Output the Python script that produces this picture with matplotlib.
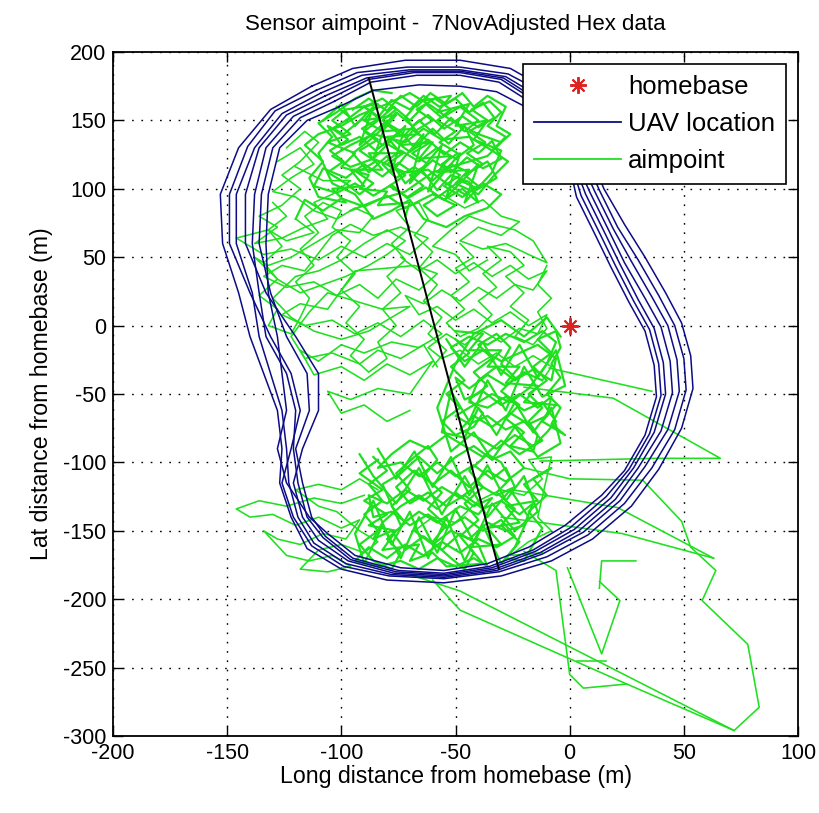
import numpy as np
import matplotlib
matplotlib.use("Agg")
import matplotlib.pyplot as plt
from matplotlib.lines import Line2D

plt.rcParams['font.family'] = ['Liberation Sans', 'DejaVu Sans']
plt.rcParams['axes.unicode_minus'] = False

title = "Sensor aimpoint -  7NovAdjusted Hex data"
xlabel = "Long distance from homebase (m)"
ylabel = "Lat distance from homebase (m)"
x_ticks = [-200, -150, -100, -50, 0, 50, 100]
y_ticks = [-300, -250, -200, -150, -100, -50, 0, 50, 100, 150, 200]

homebase = (0, 0)
track_line = [(-88, 181), (-31, -178)]

# UAV laps (x, y) in metres
uav_lap1 = [(-113,175),(-95,188),(-72,194),(-48,194),(-26,188),(-9,172),(2,150),(9,124),(15,100),(24,74),(33,50),(42,24),(49,2),(53,-22),(54,-46),(49,-75),(39,-105),(27,-132),(10,-156),(-8,-172),(-30,-183),(-55,-188),(-80,-186),(-100,-178),(-115,-163),(-122,-140),(-127,-115),(-126,-90),(-128,-62),(-134,-35),(-140,-8),(-145,24),(-152,60),(-153,96),(-145,130),(-131,158),(-113,175)]
uav_lap2 = [(-111,172),(-93,185),(-71,189),(-48,189),(-27,184),(-10,169),(0,147),(7,122),(13,99),(21,72),(30,48),(39,22),(46,0),(50,-24),(51,-47),(46,-76),(36,-104),(24,-130),(8,-153),(-10,-169),(-31,-180),(-55,-185),(-79,-183),(-99,-176),(-113,-161),(-121,-140),(-126,-115),(-122,-90),(-118,-62),(-122,-35),(-131,-8),(-140,24),(-149,60),(-149,96),(-141,131),(-129,157),(-111,172)]
uav_lap3 = [(-109,170),(-91,183),(-70,187),(-48,187),(-28,182),(-12,166),(-2,145),(5,120),(11,98),(19,71),(27,47),(36,21),(43,0),(47,-25),(48,-48),(43,-76),(33,-103),(22,-128),(6,-151),(-12,-167),(-32,-179),(-55,-184),(-78,-182),(-98,-174),(-112,-159),(-119,-140),(-123,-115),(-124,-90),(-126,-62),(-131,-35),(-136,-8),(-139,24),(-146,60),(-146,96),(-138,130),(-126,155),(-109,170)]
uav_lap4 = [(-107,168),(-89,181),(-69,186),(-48,186),(-29,181),(-13,164),(-3,143),(3,119),(9,97),(17,70),(24,46),(33,20),(40,-1),(44,-26),(45,-49),(40,-77),(30,-104),(20,-127),(4,-150),(-13,-166),(-33,-178),(-55,-183),(-77,-181),(-97,-172),(-110,-157),(-117,-140),(-121,-115),(-117,-90),(-110,-62),(-110,-35),(-120,-8),(-133,24),(-142,60),(-142,96),(-136,130),(-124,154),(-107,168)]
uav_lap5 = [(-105,166),(-88,180),(-68,185),(-48,185),(-30,180),(-14,163),(-4,141),(2,118),(7,96),(15,69),(22,45),(30,19),(37,-2),(41,-27),(42,-50),(37,-78),(28,-104),(18,-126),(2,-149),(-15,-165),(-34,-177),(-55,-182),(-76,-180),(-96,-171),(-108,-155),(-115,-140),(-119,-115),(-121,-90),(-120,-62),(-124,-35),(-133,-8),(-136,24),(-139,60),(-138,96),(-133,130),(-121,153),(-105,166)]
uav_lap6 = [(-103,164),(-87,178),(-67,183),(-48,183),(-31,178),(-15,161),(-5,139),(1,117),(5,95),(13,68),(20,44),(28,18),(35,-3),(39,-28),(40,-51),(35,-79),(26,-105),(16,-125),(0,-148),(-16,-164),(-35,-176),(-55,-181),(-75,-179),(-95,-170),(-107,-154),(-113,-140),(-117,-115),(-120,-90),(-114,-62),(-115,-35),(-124,-8),(-131,24),(-136,60),(-135,96),(-130,130),(-118,152),(-103,164)]
uav_lap7 = [(-101,160),(-86,172),(-66,176),(-48,175),(-32,171),(-16,157),(-6,137),(0,116),(3,94),(11,67),(18,43),(26,17),(33,-4),(37,-29),(38,-52),(33,-80),(24,-106),(14,-124),(-2,-146),(-18,-162),(-36,-174),(-55,-179),(-74,-177),(-94,-168),(-106,-152),(-114,-140),(-124,-115),(-128,-90),(-124,-62),(-126,-35),(-128,-8),(-132,24),(-133,60),(-132,96),(-127,130),(-115,150),(-101,160)]
uav_laps = [uav_lap1, uav_lap2, uav_lap3, uav_lap4, uav_lap5, uav_lap6, uav_lap7]

# Sensor aimpoint path pieces (x, y) in metres -- dense clusters
aim_upper = [(-98,150),(-90,160),(-84,152),(-78,165),(-70,158),(-64,168),(-57,160),(-50,166),(-44,156),(-38,163),(-33,152),(-40,145),(-47,153),(-55,144),(-62,154),(-69,146),(-76,156),(-83,143),(-91,151),(-99,140),(-106,146),(-100,132),(-92,138),(-85,128),(-78,137),(-70,127),(-62,136),(-55,125),(-48,134),(-40,126),(-34,135),(-30,122),(-38,115),(-45,123),(-52,112),(-60,121),(-67,110),(-75,119),(-82,109),(-90,118),(-98,108),(-108,115),(-112,102),(-102,97),(-94,104),(-86,95),(-78,103),(-71,93),(-63,101),(-55,92),(-47,100),(-40,90),(-44,105),(-52,110),(-58,99),(-65,114),(-72,104),(-80,124),(-88,112),(-95,126),(-88,135),(-80,147),(-73,138),(-66,150),(-59,140),(-52,152),(-46,142),(-40,150),(-48,160),(-56,152),(-63,162),(-70,150),(-77,160),(-84,150),(-90,142),(-82,132),(-74,142),(-68,130),(-60,144),(-53,133),(-46,146),(-42,132),(-50,122),(-58,130),(-66,120),(-74,128),(-82,118),(-76,108),(-68,116),(-60,106),(-52,118),(-44,112),(-36,120),(-32,108),(-40,100),(-48,106),(-56,96),(-64,88),(-58,80),(-50,88),(-60,96),(-72,86),(-80,95),(-90,87),(-100,93),(-108,84),(-116,92),(-120,78)]
aim_upper2 = [(-95,158),(-88,166),(-80,157),(-74,168),(-67,160),(-61,170),(-54,162),(-47,170),(-42,160),(-36,168),(-28,160),(-32,146),(-26,140),(-34,128),(-44,138),(-56,136),(-64,144),(-72,134),(-86,140),(-96,132),(-104,124),(-96,116),(-86,122),(-72,112),(-62,114),(-54,104),(-46,96),(-38,104),(-30,96),(-36,86),(-46,80),(-54,72),(-64,78),(-70,92),(-78,84),(-86,78),(-94,96),(-104,104),(-110,126),(-104,138),(-110,148),(-102,156),(-94,166),(-86,172),(-78,170)]
aim_upper3 = [(-102,160),(-96,152),(-104,144),(-97,136),(-105,128),(-99,120),(-106,112),(-98,104),(-92,96),(-86,104),(-93,112),(-85,120),(-92,128),(-84,136),(-91,144),(-83,152),(-90,160),(-82,166),(-76,158),(-82,150),(-74,142),(-81,134),(-73,126),(-80,118),(-72,110),(-79,102),(-71,94),(-64,102),(-70,110),(-62,118),(-69,126),(-61,134),(-68,142),(-60,150),(-67,158),(-59,166),(-52,158),(-58,150),(-50,142),(-57,134),(-49,126),(-56,118),(-48,110),(-55,102),(-47,94),(-40,102),(-46,110),(-38,118),(-45,126),(-37,134),(-44,142),(-36,150),(-43,158),(-35,164),(-30,156),(-36,146),(-28,138),(-34,128),(-27,120),(-33,110),(-40,96),(-50,104),(-44,114),(-58,112),(-52,124),(-66,122),(-60,134),(-74,132),(-68,144),(-82,142),(-76,154),(-90,150),(-84,162),(-98,158),(-104,150),(-96,140),(-106,134),(-94,126),(-100,116),(-88,110),(-92,100),(-80,98),(-84,88),(-70,90),(-72,80)]
aim_upper4 = [(-108,150),(-100,162),(-94,146),(-86,160),(-92,132),(-80,150),(-86,122),(-72,146),(-78,112),(-64,140),(-70,104),(-56,132),(-62,98),(-48,126),(-54,94),(-40,118),(-46,90),(-34,112),(-30,128),(-42,136),(-36,150),(-50,146),(-44,162),(-58,156),(-52,168),(-66,164),(-72,152),(-66,140),(-80,138),(-74,126),(-88,126),(-82,114),(-96,114),(-90,102),(-104,100),(-98,90),(-110,94),(-114,108),(-108,120),(-116,132),(-110,140),(-100,146),(-92,154),(-80,162),(-70,170),(-60,160),(-52,150),(-40,140),(-30,134),(-36,124),(-48,118),(-60,112),(-72,98),(-84,92),(-96,84)]
aim_mid = [(-12,-40),(-20,-34),(-28,-44),(-36,-36),(-44,-46),(-50,-38),(-46,-54),(-38,-48),(-30,-58),(-22,-50),(-14,-60),(-8,-52),(-10,-66),(-18,-72),(-26,-64),(-34,-74),(-42,-66),(-48,-76),(-40,-82),(-32,-90),(-24,-80),(-16,-88),(-10,-78),(-6,-70),(-12,-56),(-20,-62),(-28,-52),(-36,-60),(-44,-56),(-40,-40),(-32,-30),(-24,-40),(-16,-32),(-8,-40),(-6,-24),(-14,-14),(-22,-20),(-30,-26),(-38,-18),(-46,-26),(-52,-16),(-44,-8),(-36,-14),(-28,-6),(-20,-12),(-12,-4),(-6,-12),(-10,-28),(-18,-46),(-26,-56),(-34,-50),(-42,-58),(-50,-66),(-44,-72),(-36,-66),(-28,-76),(-20,-70),(-12,-84),(-22,-94),(-30,-84),(-38,-96),(-46,-88),(-54,-80)]
aim_mid2 = [(-50,-10),(-44,-20),(-52,-30),(-46,-40),(-54,-50),(-48,-60),(-56,-70),(-50,-80),(-42,-74),(-38,-64),(-44,-54),(-36,-44),(-42,-34),(-34,-24),(-40,-14),(-32,-6),(-26,-16),(-30,-28),(-24,-38),(-30,-48),(-22,-58),(-28,-68),(-20,-78),(-26,-88),(-16,-92),(-14,-80),(-18,-70),(-12,-60),(-18,-50),(-10,-40),(-16,-30),(-8,-20),(-14,-10),(-6,-4),(-4,-16),(-8,-28),(-4,-38),(-10,-50),(-4,-60),(-8,-72),(-2,-80),(-12,-70),(-6,-58),(-20,-56),(-14,-44),(-28,-42),(-22,-30),(-36,-30),(-30,-18),(-44,-18),(-38,-6),(-50,-4)]
aim_mid3 = [(-54,-10),(-46,-30),(-38,-12),(-30,-36),(-22,-14),(-14,-38),(-6,-18),(-2,-44),(-12,-52),(-20,-30),(-28,-62),(-36,-40),(-44,-70),(-52,-48),(-56,-78),(-46,-82),(-40,-60),(-32,-80),(-24,-56),(-16,-78),(-8,-60),(-4,-86),(-14,-96),(-24,-74),(-34,-98),(-42,-78),(-52,-92),(-58,-60),(-50,-28),(-42,-6),(-30,4),(-20,-8),(-10,6),(-4,-8)]
aim_lower = [(-54,-80),(-62,-90),(-70,-84),(-78,-94),(-84,-104),(-74,-100),(-66,-110),(-58,-100),(-50,-110),(-42,-102),(-34,-112),(-28,-104),(-24,-118),(-32,-124),(-40,-116),(-48,-126),(-56,-118),(-64,-128),(-72,-120),(-80,-130),(-88,-124),(-86,-140),(-78,-136),(-70,-146),(-62,-138),(-54,-148),(-46,-140),(-38,-150),(-30,-142),(-24,-154),(-32,-162),(-40,-156),(-48,-166),(-56,-158),(-64,-168),(-72,-160),(-80,-170),(-88,-162),(-94,-172),(-84,-176),(-74,-172),(-66,-178),(-58,-170),(-50,-176),(-42,-170),(-36,-176),(-40,-160),(-48,-152),(-56,-164),(-64,-154),(-72,-164),(-78,-150),(-86,-156),(-82,-144),(-74,-132),(-66,-124),(-58,-134),(-50,-122),(-42,-132),(-34,-126),(-40,-138),(-48,-132),(-58,-144),(-66,-136),(-74,-146),(-82,-116),(-74,-108),(-66,-96),(-58,-108),(-50,-96),(-42,-88),(-34,-98),(-26,-92),(-20,-104),(-28,-114),(-36,-106),(-44,-118),(-52,-106),(-60,-116),(-68,-106),(-76,-118),(-70,-130),(-62,-122),(-54,-132),(-46,-124),(-38,-134),(-30,-128),(-22,-138),(-16,-130),(-20,-146),(-28,-150),(-36,-144),(-44,-156),(-52,-150),(-60,-160),(-68,-150)]
aim_lower2 = [(-86,-96),(-80,-106),(-88,-116),(-82,-128),(-90,-138),(-84,-150),(-92,-160),(-86,-172),(-78,-178),(-74,-166),(-80,-156),(-72,-144),(-78,-132),(-70,-120),(-76,-108),(-68,-96),(-62,-88),(-58,-98),(-64,-110),(-56,-122),(-62,-134),(-54,-146),(-60,-158),(-52,-170),(-46,-178),(-42,-166),(-48,-154),(-40,-142),(-46,-130),(-38,-118),(-44,-106),(-36,-94),(-30,-100),(-26,-112),(-32,-122),(-24,-134),(-30,-146),(-22,-158),(-28,-170),(-20,-172),(-16,-160),(-12,-148),(-18,-136),(-10,-124),(-16,-112),(-8,-104),(-20,-116),(-14,-128),(-28,-132),(-22,-144),(-36,-148),(-30,-160),(-44,-162),(-38,-174),(-54,-176),(-60,-166),(-70,-172),(-66,-160),(-82,-164),(-76,-150),(-88,-146),(-80,-138),(-90,-128),(-82,-120),(-92,-108),(-84,-98)]
aim_lower3 = [(-84,-90),(-76,-112),(-68,-92),(-60,-118),(-52,-96),(-44,-124),(-36,-102),(-28,-128),(-20,-110),(-14,-136),(-24,-150),(-34,-130),(-42,-158),(-50,-134),(-58,-166),(-66,-140),(-74,-170),(-82,-146),(-90,-174),(-94,-152),(-86,-128),(-78,-160),(-70,-136),(-62,-170),(-54,-140),(-46,-172),(-38,-146),(-30,-174),(-24,-162),(-18,-140),(-26,-120),(-36,-140),(-46,-110),(-56,-138),(-66,-104),(-76,-130),(-86,-110),(-92,-94)]
dense_pieces = [aim_upper, aim_upper2, aim_upper3, aim_upper4, aim_mid, aim_mid2,
                aim_mid3, aim_lower, aim_lower2, aim_lower3]

# Sensor aimpoint path pieces -- sparser mesh and excursions
aim_left = [(-120,78),(-112,68),(-124,62),(-132,70),(-146,64),(-134,52),(-122,56),(-110,48),(-100,58),(-90,50),(-80,60),(-70,52),(-62,64),(-74,72),(-86,66),(-96,74),(-104,66),(-116,40),(-126,44),(-134,36),(-124,28),(-112,32),(-102,22),(-92,30),(-84,20),(-76,34),(-66,26),(-58,38),(-68,44),(-80,42),(-94,40),(-106,12),(-118,16),(-126,8),(-116,0),(-104,4),(-94,-6),(-84,2),(-74,-8),(-64,4),(-56,-6),(-66,-16),(-78,-12),(-90,-20),(-100,-14),(-110,-26),(-118,-18),(-112,-36),(-100,-30),(-90,-40),(-80,-28),(-70,-36),(-60,-26),(-70,-50),(-84,-46),(-96,-54),(-106,-48),(-100,-64),(-90,-58),(-80,-70),(-70,-62)]
aim_left2 = [(-128,120),(-118,130),(-112,118),(-122,108),(-130,98),(-120,94),(-112,84),(-102,78),(-94,86),(-86,80),(-92,68),(-102,70),(-112,60),(-122,50),(-132,44),(-138,50),(-128,34),(-118,24),(-108,30),(-98,36),(-88,44),(-80,52),(-72,62),(-80,70),(-90,60),(-100,48),(-110,40),(-120,36),(-130,20),(-122,6),(-112,-4),(-100,-10),(-88,-4),(-78,6),(-70,14),(-82,12),(-94,18),(-106,24),(-114,10),(-122,-8),(-116,-24),(-104,-20),(-92,-28),(-84,-18),(-74,-24),(-64,-14),(-58,-30)]
aim_left3 = [(-130,90),(-124,80),(-132,70),(-126,58),(-134,46),(-128,34),(-136,22),(-128,12),(-132,0),(-122,-6),(-118,6),(-114,20),(-120,32),(-112,44),(-118,56),(-110,68),(-116,80),(-108,90),(-100,84),(-104,72),(-96,62),(-102,50),(-94,38),(-100,26),(-92,14),(-98,2),(-90,-10),(-96,-22),(-88,-34),(-80,-24),(-84,-12),(-76,0),(-82,12),(-74,24),(-80,36),(-72,48),(-78,60),(-70,72),(-76,84),(-66,90),(-62,78),(-68,66),(-60,54),(-66,42),(-58,30),(-64,18),(-56,6),(-62,-6),(-54,-18),(-60,-30)]
aim_left4 = [(-124,130),(-116,142),(-110,134),(-118,120),(-126,110),(-118,100),(-126,88),(-136,80),(-128,72),(-138,60),(-126,64),(-116,72),(-106,78),(-112,90),(-104,96),(-96,106),(-108,106),(-120,116)]
aim_centre = [(-74,50),(-66,40),(-58,48),(-50,38),(-42,46),(-34,36),(-26,44),(-18,34),(-10,40),(-16,26),(-24,30),(-32,20),(-40,28),(-48,18),(-56,26),(-64,16),(-72,22),(-66,8),(-58,14),(-50,4),(-42,12),(-34,2),(-26,10),(-18,0),(-10,8),(-14,-6),(-22,-2),(-30,-12),(-38,-4),(-46,-14),(-54,-6),(-62,-16),(-56,-24),(-48,-18),(-40,-28),(-32,-20),(-24,-30),(-16,-22),(-8,-30),(-12,-40)]
aim_centre2 = [(-56,96),(-46,86),(-38,92),(-30,80),(-22,76),(-30,66),(-40,72),(-48,62),(-38,56),(-28,60),(-18,52),(-10,46),(-16,62),(-24,70),(-34,74),(-44,80),(-52,70),(-60,58),(-50,52),(-44,40),(-36,48)]
aim_centre3 = [(-48,60),(-42,50),(-50,42),(-44,32),(-52,22),(-46,12),(-54,2),(-48,-8),(-40,-2),(-34,8),(-40,18),(-32,28),(-38,38),(-30,48),(-36,58),(-26,54),(-20,44),(-28,36),(-20,24),(-26,14),(-18,4),(-24,-8),(-16,-14),(-10,-2),(-14,10),(-8,20),(-14,30),(-10,44)]
aim_right = [(-68,-150),(-60,-140),(-50,-144),(-40,-128),(-30,-120),(-20,-124),(-12,-112),(-18,-98),(-8,-96),(-14,-140),(-8,-150),(-18,-158),(-26,-168),(-12,-166)]
aim_lowleft = [(-90,-124),(-100,-130),(-112,-126),(-124,-132),(-136,-128),(-146,-134),(-140,-140),(-130,-138),(-120,-146),(-110,-140),(-100,-148),(-92,-142),(-98,-156),(-108,-152),(-118,-160),(-128,-156),(-134,-150),(-124,-168),(-114,-172),(-104,-168),(-96,-176),(-106,-180),(-118,-178),(-110,-164),(-100,-160),(-90,-166),(-84,-158),(-92,-150),(-102,-136),(-110,-132),(-120,-120),(-110,-116),(-100,-120),(-92,-112),(-84,-120)]
aim_tail1 = [(-20,-104),(0,-112),(32,-113),(49,-143),(53,-162),(64,-179),(58,-201),(78,-233),(83,-279),(72,-296),(25,-262),(6,-265),(0,-255),(-6,-179),(-20,-165)]
aim_tail2 = [(-70,-182),(-48,-194),(72,-296)]
aim_tail3 = [(-60,-186),(-48,-208),(25,-262)]
aim_tail4 = [(-1,-177),(14,-240),(22,-201),(13,-187)]
aim_tail5 = [(3,-245),(16,-245)]
aim_tail6 = [(-30,-140),(23,-152),(63,-170)]
aim_tail7 = [(29,-172),(14,-172),(13,-192)]
aim_tail8 = [(-9,-31),(36,-48)]
aim_tail9 = [(-20,-45),(19,-53),(66,-97),(38,-97),(-13,-99)]
aim_tail10 = [(-25,-120),(21,-133),(63,-170)]
sparse_pieces = [aim_left, aim_left2, aim_left3, aim_left4, aim_centre, aim_centre2,
                 aim_centre3, aim_right, aim_lowleft, aim_tail1, aim_tail2,
                 aim_tail3, aim_tail4, aim_tail5, aim_tail6, aim_tail7, aim_tail8,
                 aim_tail9, aim_tail10]

blue = '#0c0c86'
green = '#1fe01f'
red = '#dd2222'

fig = plt.figure(figsize=(8.2, 8.13), dpi=100)
ax = fig.add_axes([0.1378, 0.0947, 0.8354, 0.8413])

for piece in sparse_pieces:
    p = np.array(piece, dtype=float)
    ax.plot(p[:, 0], p[:, 1], color=green, lw=1.15, zorder=2)
for piece in dense_pieces:
    p = np.array(piece, dtype=float)
    ax.plot(p[:, 0], p[:, 1], color=green, lw=1.6, zorder=2)
for lap in uav_laps:
    p = np.array(lap, dtype=float)
    ax.plot(p[:, 0], p[:, 1], color=blue, lw=1.1, zorder=3)
tl = np.array(track_line, dtype=float)
ax.plot(tl[:, 0], tl[:, 1], color='black', lw=1.4, zorder=4)
ax.plot([homebase[0]], [homebase[1]], linestyle='none', marker=(8, 2, 0),
        markersize=12, markeredgewidth=1.4, color=red, zorder=5)

ax.set_xlim(-200, 100)
ax.set_ylim(-300, 200)
ax.set_xticks(x_ticks)
ax.set_yticks(y_ticks)
ax.tick_params(direction='in', top=True, right=True, length=7, width=1.0,
               labelsize=15.5, pad=5)
ax.grid(True, color='black', linestyle=(0, (1.2, 5.5)), linewidth=1.0)
for s in ax.spines.values():
    s.set_linewidth(1.3)
ax.set_title(title, fontsize=16, pad=16)
ax.set_xlabel(xlabel, fontsize=16.7, labelpad=1)
ax.set_ylabel(ylabel, fontsize=16.7, labelpad=7)

handles = [
    Line2D([], [], linestyle='none', marker=(8, 2, 0), markersize=12,
           markeredgewidth=1.4, color=red),
    Line2D([], [], color=blue, lw=1.3),
    Line2D([], [], color=green, lw=1.3),
]
leg = ax.legend(handles, ['homebase', 'UAV location', 'aimpoint'],
                loc='upper right', fontsize=18.5, fancybox=False, framealpha=1,
                edgecolor='black', handlelength=3.4, borderaxespad=0.45,
                labelspacing=0.5, handletextpad=0.25, borderpad=0.45)
leg.get_frame().set_linewidth(1.2)
leg.set_zorder(10)

fig.savefig('out.png', dpi=100)
